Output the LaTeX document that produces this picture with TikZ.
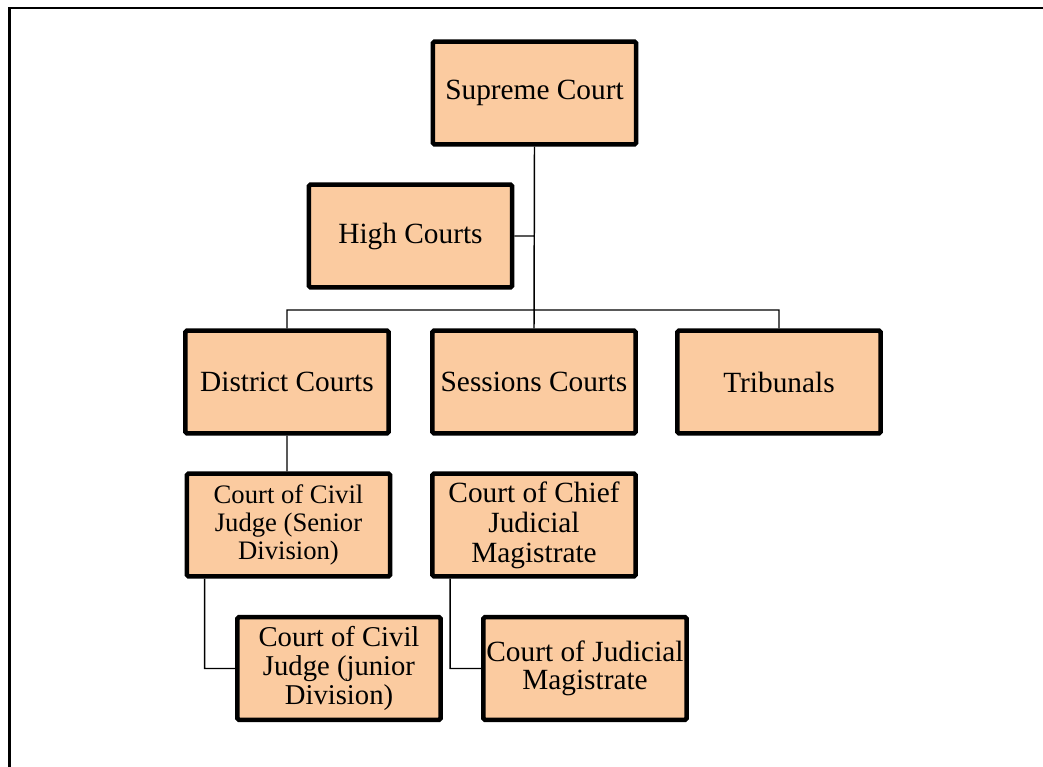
\documentclass[tikz,border=0pt]{standalone}
\usepackage{fontspec}
\setmainfont{Liberation Serif}
\usetikzlibrary{positioning}
\definecolor{courtfill}{RGB}{251,203,160}
\tikzset{
	court/.style={draw, line width=3.4pt, fill=courtfill, rounded corners=1.2pt, minimum width=152.5pt, minimum height=77pt, align=center, inner sep=2pt, font=\fontsize{22}{22.5}\selectfont},
	small court/.style={court, font=\fontsize{20}{21}\selectfont},
	link/.style={draw, line width=1.1pt}
}
\begin{document}
\begin{tikzpicture}[x=0.75pt, y=-0.75pt]
	\useasboundingbox (0,0) rectangle (1043,767);
	\draw[line width=1.8pt] (9.3,767) -- (9.3,8) -- (1043,8);

	\node[court] (supreme) at (534.5,93) {Supreme Court};
	\node[court] (high) at (410.5,236) {High Courts};
	\node[court] (district) at (287,382) {District Courts};
	\node[court] (sessions) at (534,382) {Sessions Courts};
	\node[court] (tribunals) at (779,382) {Tribunals};
	\node[small court] (civsenior) at (288.5,525) {Court of Civil\\Judge (Senior\\Division)};
	\node[court] (chiefjm) at (534,525) {Court of Chief\\Judicial\\Magistrate};
	\node[court, font=\fontsize{21.5}{22}\selectfont] (civjunior) at (339,668.5) {Court of Civil\\Judge (junior\\Division)};
	\node[court, font=\fontsize{22}{21}\selectfont] (jm) at (585,668.5) {Court of Judicial\\Magistrate};

	\coordinate (bus) at (0,310);
	\path[link]
		(supreme.south) -- (sessions.north)
		(high.east) -- (high.east -| supreme.south)
		(district.north) |- (bus -| tribunals.north) -- (tribunals.north)
		(district.south) -- (district.south |- civsenior.north)
		([xshift=15pt]civsenior.south west) |- (civjunior.west)
		([xshift=15pt]chiefjm.south west) |- (jm.west);
\end{tikzpicture}
\end{document}
